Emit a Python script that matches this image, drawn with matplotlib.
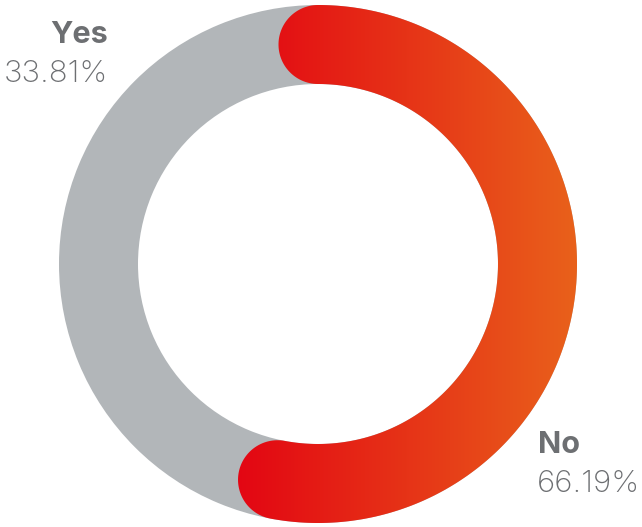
import numpy as np
import matplotlib
matplotlib.use("Agg")
import matplotlib.pyplot as plt
from matplotlib.path import Path
from matplotlib.patches import PathPatch, Wedge
from matplotlib.colors import LinearSegmentedColormap

# data
labels = ["Yes", "No"]
shares = [33.81, 66.19]
value_texts = ["33.81%", "66.19%"]

# styles
gray = "#B2B6B9"
grad_left = "#E30613"
grad_right = "#E9611B"
text_color = "#6D6F72"
arc_scale = 0.8  # visual sweep factor of the highlighted arc as drawn in the design

W, H = 642, 527
fig = plt.figure(figsize=(W / 100, H / 100), dpi=100)
ax = fig.add_axes([0, 0, 1, 1])
ax.set_xlim(0, W)
ax.set_ylim(H, 0)
ax.axis("off")

cx, cy = 318, 264
r_out, r_in = 259, 180
r_mid = (r_out + r_in) / 2
cap = (r_out - r_in) / 2

ring = Wedge((cx, cy), r_out, 0, 360, width=r_out - r_in, facecolor=gray, edgecolor="none")
ax.add_patch(ring)

sweep = 360 * shares[1] / 100 * arc_scale
t = np.radians(np.linspace(0, sweep, 400))

def pt(r, a):
    return cx + r * np.sin(a), cy - r * np.cos(a)

ox, oy = pt(r_out, t)
ix, iy = pt(r_in, t[::-1])
a_end = t[-1]
ecx, ecy = pt(r_mid, a_end)
phi = np.linspace(0, np.pi, 60)
rad = np.array([np.sin(a_end), -np.cos(a_end)])
tan = np.array([np.cos(a_end), np.sin(a_end)])
ex = ecx + cap * (rad[0] * np.cos(phi) + tan[0] * np.sin(phi))
ey = ecy + cap * (rad[1] * np.cos(phi) + tan[1] * np.sin(phi))
a0 = t[0]
scx, scy = pt(r_mid, a0)
rad0 = np.array([np.sin(a0), -np.cos(a0)])
tan0 = np.array([np.cos(a0), np.sin(a0)])
sx = scx + cap * (-rad0[0] * np.cos(phi) - tan0[0] * np.sin(phi))
sy = scy + cap * (-rad0[1] * np.cos(phi) - tan0[1] * np.sin(phi))

xs = np.concatenate([ox, ex, ix, sx])
ys = np.concatenate([oy, ey, iy, sy])
verts = np.column_stack([xs, ys])
verts = np.vstack([verts, verts[:1]])
codes = [Path.MOVETO] + [Path.LINETO] * (len(verts) - 2) + [Path.CLOSEPOLY]
path = Path(verts, codes)
patch = PathPatch(path, facecolor="none", edgecolor="none")
ax.add_patch(patch)

x0, x1 = xs.min(), xs.max()
y0, y1 = ys.min(), ys.max()
cmap = LinearSegmentedColormap.from_list("g", [grad_left, grad_right])
grad = np.linspace(0, 1, 256).reshape(1, -1)
im = ax.imshow(grad, cmap=cmap, extent=[x0, x1, y1, y0], aspect="auto",
               interpolation="bicubic", zorder=3)
im.set_clip_path(patch)
ax.set_xlim(0, W)
ax.set_ylim(H, 0)

fam = ["Inter", "DejaVu Sans"]
ax.text(108, 43, labels[0], ha="right", va="baseline", fontsize=22,
        fontweight="bold", color=text_color, family=fam)
ax.text(108, 82, value_texts[0], ha="right", va="baseline", fontsize=22.5,
        fontweight="light", color=text_color, family=fam)
ax.text(538, 453, labels[1], ha="left", va="baseline", fontsize=22,
        fontweight="bold", color=text_color, family=fam)
ax.text(537, 492, value_texts[1], ha="left", va="baseline", fontsize=22.5,
        fontweight="light", color=text_color, family=fam)

fig.savefig("out.png", dpi=100, facecolor="white")
